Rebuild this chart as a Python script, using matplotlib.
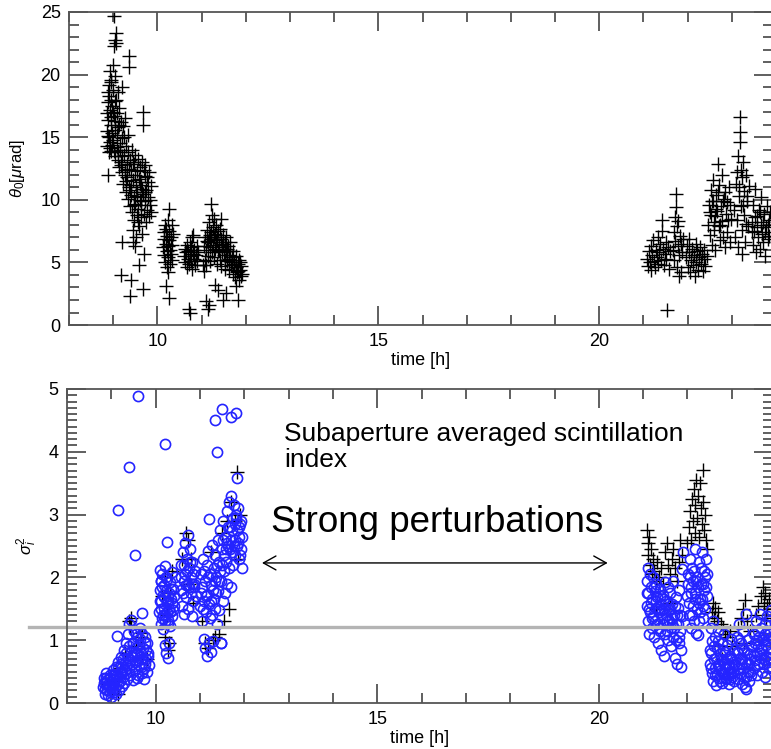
import matplotlib
matplotlib.use('Agg')
from matplotlib import pyplot as plt
from matplotlib.ticker import MultipleLocator

# Top panel: isoplanatic angle theta_0 [urad], one list pair per observing block
t_a = [8.86, 8.87, 8.88, 8.88, 8.89, 8.90, 8.90, 8.91, 8.92, 8.93, 8.93, 8.94, 8.95, 8.95,
       8.96, 8.97, 8.98, 8.99, 9.00, 9.00, 9.01, 9.02, 9.03, 9.03, 9.04, 9.05, 9.05, 9.06,
       9.02, 9.07, 9.08, 9.08, 9.10, 9.10, 9.12, 9.13, 9.14, 9.15, 9.17, 9.18, 9.19, 9.20,
       9.21, 9.22, 9.23, 9.25, 9.26, 9.27, 9.28, 9.30, 9.31, 9.32, 9.33, 9.34, 9.35, 9.35,
       9.36, 9.37, 9.38, 9.40, 9.40, 9.42, 9.43, 9.44, 9.45, 9.46, 9.47, 9.48, 9.49, 9.50,
       9.51, 9.52, 9.53, 9.54, 9.55, 9.56, 9.57, 9.58, 9.59, 9.60, 9.61, 9.62, 9.63, 9.64,
       9.65, 9.66, 9.67, 9.67, 9.68, 9.70, 9.71, 9.72, 9.73, 9.74, 9.75, 9.77, 9.78, 9.80,
       9.82, 9.83, 9.85, 9.86, 8.88, 9.20, 9.18, 9.40, 9.38, 9.58, 9.70, 9.67, 9.45, 9.50]
th_a = [14.3, 15.5, 17.8, 18.6, 16.4, 13.8, 19.2, 15.0, 17.2, 20.3, 14.6, 18.0, 16.0, 19.6,
        13.9, 17.5, 15.3, 18.8, 14.8, 20.8, 16.7, 22.3, 22.8, 13.5, 17.9, 19.9, 15.6, 23.3,
        24.7, 22.5, 14.2, 16.9, 18.6, 13.2, 15.8, 12.6, 17.3, 14.5, 13.0, 16.2, 19.0, 12.2,
        14.9, 11.3, 15.9, 13.6, 12.0, 16.5, 10.6, 14.3, 11.8, 12.9, 10.1, 15.2, 21.5, 20.6,
        11.0, 13.2, 9.5, 12.4, 10.4, 14.0, 9.0, 11.6, 7.6, 12.9, 10.2, 8.4, 13.6, 9.7,
        11.0, 7.0, 12.3, 8.8, 10.6, 13.3, 9.3, 11.7, 7.9, 10.0, 12.6, 8.6, 11.2, 9.6,
        13.0, 7.3, 17.0, 16.0, 10.5, 8.9, 11.9, 9.9, 12.8, 8.2, 10.8, 9.2, 11.4, 8.7,
        12.2, 10.0, 9.0, 11.1, 12.0, 6.6, 4.0, 3.6, 2.3, 4.8, 5.7, 2.9, 6.6, 6.3]

t_b = [10.13, 10.14, 10.15, 10.16, 10.17, 10.18, 10.19, 10.20, 10.21, 10.22, 10.22, 10.23,
       10.24, 10.25, 10.26, 10.27, 10.27, 10.28, 10.29, 10.30, 10.31, 10.32, 10.33, 10.34,
       10.35, 10.20, 10.23, 10.27]
th_b = [6.2, 7.4, 5.6, 6.9, 8.0, 5.0, 6.5, 7.7, 5.9, 4.6, 7.1, 6.3,
        8.4, 5.4, 6.8, 9.3, 7.5, 6.0, 4.9, 7.0, 5.7, 8.0, 6.4, 5.2,
        7.3, 3.1, 4.2, 2.2]

t_c = [10.60, 10.62, 10.63, 10.65, 10.66, 10.68, 10.69, 10.70, 10.72, 10.73, 10.74, 10.76,
       10.77, 10.78, 10.80, 10.81, 10.83, 10.84, 10.86, 10.87, 10.89, 10.90, 10.92,
       10.72, 10.74, 10.78]
th_c = [5.5, 6.1, 5.0, 5.8, 4.6, 6.4, 5.3, 5.9, 4.9, 6.6, 5.5, 5.1,
        6.2, 4.5, 5.7, 7.2, 5.3, 6.0, 4.8, 5.6, 6.3, 5.1, 5.8,
        1.3, 1.0, 7.0]

t_d = [11.05, 11.07, 11.08, 11.10, 11.11, 11.13, 11.14, 11.15, 11.17, 11.18, 11.19, 11.20,
       11.22, 11.22, 11.23, 11.24, 11.25, 11.26, 11.28, 11.29, 11.30, 11.31, 11.33, 11.34,
       11.35, 11.37, 11.38, 11.40, 11.41, 11.43, 11.44, 11.45, 11.47, 11.48, 11.50, 11.52,
       11.53, 11.55, 11.56, 11.58, 11.60, 11.62, 11.63, 11.65, 11.67, 11.68, 11.70, 11.72,
       11.73, 11.75, 11.77, 11.78, 11.80, 11.82, 11.84, 11.85, 11.87, 11.89, 11.90, 11.92,
       11.03, 11.05, 11.10, 11.17, 11.15, 11.31, 11.38, 11.48, 11.78, 11.82, 11.55]
th_d = [6.3, 5.2, 7.0, 6.0, 4.8, 7.6, 6.6, 5.5, 8.2, 6.2, 7.2, 5.1,
        9.7, 6.9, 8.8, 5.8, 7.8, 6.4, 8.5, 5.4, 7.3, 6.1, 8.0, 4.9,
        6.8, 5.9, 7.5, 6.4, 5.2, 8.5, 6.9, 4.7, 6.2, 7.2, 5.6, 6.6,
        4.5, 5.9, 7.0, 5.1, 6.3, 4.4, 5.6, 6.6, 4.8, 5.4, 4.1, 5.9,
        5.0, 3.8, 4.6, 5.5, 4.2, 4.9, 3.6, 5.2, 4.4, 3.9, 4.7, 4.1,
        4.8, 4.3, 1.9, 1.6, 1.3, 3.2, 2.8, 2.0, 3.1, 2.0, 2.6]

t_e = [21.08, 21.10, 21.12, 21.14, 21.16, 21.18, 21.20, 21.22, 21.24, 21.26, 21.28, 21.30,
       21.32, 21.34, 21.36, 21.38, 21.40, 21.42, 21.43, 21.44, 21.46, 21.48, 21.50, 21.52,
       21.55, 21.57, 21.60, 21.54]
th_e = [5.3, 4.7, 5.9, 5.0, 6.3, 4.4, 5.6, 6.8, 5.1, 4.6, 6.0, 5.4,
        7.0, 4.9, 5.8, 6.5, 5.2, 8.4, 7.5, 6.1, 4.8, 5.7, 6.6, 5.3,
        6.2, 4.5, 5.9, 1.2]

t_f = [21.66, 21.68, 21.70, 21.71, 21.72, 21.74, 21.74, 21.75, 21.76, 21.78, 21.79, 21.80,
       21.81, 21.82, 21.84, 21.85, 21.87, 21.89]
th_f = [6.0, 7.4, 5.2, 8.6, 6.7, 10.5, 9.4, 4.6, 7.9, 6.3, 8.3, 3.9,
        5.6, 7.1, 6.5, 4.2, 5.8, 6.9]

t_g = [21.96, 21.98, 22.00, 22.02, 22.04, 22.06, 22.08, 22.10, 22.12, 22.14, 22.16, 22.18,
       22.20, 22.22, 22.24, 22.26, 22.28, 22.30, 22.32, 22.34, 22.36, 22.38, 22.40, 22.43]
th_g = [5.4, 6.3, 4.6, 5.8, 6.9, 4.2, 5.2, 6.1, 4.8, 5.6, 3.9, 6.5,
        5.0, 5.9, 4.4, 5.4, 6.2, 4.9, 5.7, 4.3, 5.3, 6.0, 4.7, 5.5]

t_h = [22.46, 22.48, 22.50, 22.52, 22.53, 22.55, 22.57, 22.58, 22.60, 22.62, 22.63, 22.65,
       22.67, 22.68, 22.70, 22.72, 22.73, 22.75, 22.77, 22.78, 22.80, 22.82, 22.84, 22.86,
       22.88, 22.90, 22.93, 22.95, 22.98,
       23.05, 23.08, 23.10, 23.12, 23.14, 23.15, 23.16, 23.18, 23.18, 23.19, 23.20, 23.21,
       23.22, 23.23, 23.24, 23.25, 23.27, 23.28, 23.30, 23.32, 23.34, 23.36, 23.38]
th_h = [8.0, 9.6, 7.2, 10.8, 8.8, 6.4, 9.9, 11.6, 7.6, 8.7, 6.0, 10.4,
        9.1, 12.9, 7.9, 11.2, 6.8, 9.5, 8.3, 12.0, 7.0, 10.1, 6.2, 8.9,
        9.8, 7.4, 11.0, 6.6, 8.5,
        9.2, 7.0, 11.3, 8.4, 13.5, 6.2, 10.3, 16.6, 15.4, 14.6, 9.5, 12.4,
        7.6, 11.8, 5.7, 13.0, 8.8, 10.7, 6.6, 12.0, 9.9, 7.9, 11.1]

t_i = [23.45, 23.47, 23.49, 23.51, 23.53, 23.55, 23.57, 23.59, 23.61, 23.63, 23.65, 23.67,
       23.69, 23.71, 23.73, 23.75, 23.77, 23.79, 23.81, 23.83, 23.85]
th_i = [8.2, 6.4, 9.6, 7.5, 10.9, 5.8, 8.7, 7.0, 9.2, 6.1, 8.0, 10.2,
        7.3, 6.6, 8.9, 5.5, 7.8, 9.5, 6.9, 8.4, 7.1]

# extra points in the dense cores of the blocks
t_core = [8.87, 8.89, 8.91, 8.92, 8.94, 8.96, 8.98, 9.00, 9.01, 9.04, 9.06, 9.09, 9.11, 9.13,
          9.16, 9.18, 9.21, 9.24, 9.27, 9.29, 9.33, 9.36, 9.39, 9.41, 9.44, 9.47, 9.50, 9.53,
          9.56, 9.60, 9.63, 9.66, 9.69, 9.72, 9.76, 9.79, 9.84,
          11.12, 11.16, 11.21, 11.27, 11.32, 11.36, 11.39, 11.42, 11.46, 11.49, 11.54, 11.57,
          11.61, 11.64, 11.69, 11.74, 11.79, 11.83, 11.88,
          22.50, 22.54, 22.59, 22.64, 22.69, 22.74, 22.79, 22.85, 22.91, 22.96, 23.11, 23.17,
          23.26, 23.31, 23.35,
          23.46, 23.52, 23.58, 23.64, 23.70, 23.76, 23.82, 23.87]
th_core = [16.9, 15.1, 18.3, 14.1, 16.6, 19.4, 14.4, 17.0, 13.9, 16.3, 18.0, 15.2, 13.8, 16.0,
           14.0, 12.8, 13.5, 15.0, 12.4, 11.5, 13.8, 12.5, 10.8, 11.2, 13.0, 9.6, 12.0, 10.3,
           8.2, 11.4, 9.9, 10.9, 12.4, 10.6, 11.8, 10.2, 9.6,
           6.7, 7.0, 7.4, 7.0, 6.6, 7.0, 6.0, 7.7, 5.8, 6.5, 5.2, 6.1,
           5.3, 5.9, 5.0, 4.9, 4.6, 4.3, 5.0,
           9.0, 9.9, 8.2, 9.3, 10.6, 8.0, 9.9, 10.6, 8.4, 9.6, 12.2, 11.0,
           9.6, 8.1, 10.3,
           7.4, 8.6, 7.8, 9.0, 8.2, 7.4, 8.0, 9.0]

# Bottom panel: scintillation index, blue circles (one estimate)
c_t_am = [8.82, 8.84, 8.85, 8.87, 8.88, 8.90, 8.91, 8.93, 8.94, 8.96, 8.97, 8.99, 9.00, 9.02,
          9.03, 9.05, 9.06, 9.08, 9.10, 9.11, 9.13, 9.14, 9.16, 9.17, 9.19, 9.20, 9.22, 9.23,
          9.25, 9.26, 9.28, 9.29, 9.31, 9.32, 9.34, 9.35, 9.37, 9.38, 9.39, 9.41, 9.42, 9.44,
          9.45, 9.46, 9.48, 9.49, 9.51, 9.52, 9.54, 9.55, 9.57, 9.58, 9.60, 9.61, 9.63, 9.64,
          9.66, 9.67, 9.69, 9.70, 9.72, 9.73, 9.75, 9.76, 9.78, 9.80, 9.82, 9.84,
          9.14, 9.39, 9.54, 9.60, 9.70, 9.12,
          8.83, 8.86, 8.89, 8.92, 8.95, 8.98, 9.01, 9.04, 9.07, 9.09, 9.12, 9.15, 9.18, 9.21,
          9.24, 9.27, 9.30, 9.33, 9.36, 9.40, 9.43, 9.47, 9.50, 9.53, 9.56, 9.59, 9.62, 9.65,
          9.68, 9.71, 9.74, 9.77, 9.79, 9.81, 9.83,
          10.08, 10.09, 10.10, 10.11, 10.12, 10.13, 10.14, 10.15, 10.16, 10.17, 10.18, 10.19,
          10.20, 10.21, 10.22, 10.23, 10.24, 10.25, 10.26, 10.27, 10.28, 10.29, 10.30, 10.31,
          10.32, 10.33, 10.34, 10.36, 10.38, 10.40, 10.42, 10.44, 10.26, 10.22,
          10.09, 10.11, 10.13, 10.15, 10.17, 10.19, 10.21, 10.23, 10.25, 10.27, 10.29, 10.31,
          10.33, 10.35, 10.37, 10.39, 10.41,
          10.57, 10.58, 10.60, 10.61, 10.63, 10.64, 10.66, 10.67, 10.69, 10.70, 10.72, 10.73,
          10.74, 10.76, 10.77, 10.79, 10.80, 10.82, 10.83, 10.85, 10.86, 10.88, 10.90,
          10.58, 10.62, 10.65, 10.68, 10.71, 10.75, 10.78, 10.81, 10.84, 10.87]
c_s_am = [0.25, 0.40, 0.15, 0.32, 0.48, 0.20, 0.36, 0.12, 0.28, 0.45, 0.18, 0.33, 0.10, 0.26,
          0.52, 0.17, 0.38, 0.24, 0.58, 0.14, 0.44, 0.30, 0.66, 0.21, 0.50, 0.35, 0.74, 0.27,
          0.58, 0.42, 0.85, 0.32, 0.64, 0.48, 0.95, 0.38, 0.72, 1.10, 0.55, 1.25, 0.44, 0.82,
          1.32, 0.62, 0.96, 0.36, 0.76, 1.15, 0.52, 0.88, 0.40, 1.05, 0.68, 0.45, 0.92, 1.20,
          0.58, 0.80, 0.48, 1.10, 0.70, 0.38, 0.95, 0.62, 0.85, 0.50, 0.75, 0.60,
          3.08, 3.75, 2.35, 4.88, 1.44, 1.07,
          0.32, 0.22, 0.40, 0.30, 0.25, 0.40, 0.20, 0.44, 0.30, 0.46, 0.35, 0.55, 0.42, 0.62,
          0.48, 0.70, 0.52, 0.80, 0.60, 0.90, 0.68, 0.75, 0.95, 0.66, 1.10, 0.80, 0.60, 1.02,
          0.70, 0.88, 0.55, 1.05, 0.70, 0.95, 0.80,
          1.45, 1.80, 2.12, 1.25, 1.62, 1.95, 1.35, 2.05, 1.72, 1.18, 1.88, 1.52,
          0.92, 2.18, 1.40, 1.78, 0.80, 1.60, 1.98, 1.28, 0.72, 1.70, 0.95, 1.50,
          1.92, 1.22, 1.65, 2.08, 1.38, 1.82, 1.55, 2.00, 2.57, 4.12,
          1.62, 1.95, 1.50, 1.85, 1.40, 1.68, 1.30, 2.00, 1.45, 1.62, 1.32, 1.75,
          1.45, 1.82, 1.60, 1.48, 1.70,
          1.80, 2.20, 1.55, 2.40, 1.95, 1.42, 2.55, 2.05, 1.68, 2.30, 1.88, 2.68,
          1.50, 2.15, 2.45, 1.75, 2.00, 1.38, 2.25, 1.62, 1.90, 2.10, 1.70,
          2.00, 1.75, 2.20, 1.88, 2.10, 1.85, 2.25, 1.90, 2.05, 1.85]

c_t_noon = [11.01, 11.02, 11.04, 11.05, 11.07, 11.08, 11.10, 11.11, 11.12, 11.13, 11.15, 11.16,
            11.17, 11.19, 11.20, 11.21, 11.23, 11.24, 11.25, 11.27, 11.28, 11.30, 11.31, 11.32,
            11.34, 11.35, 11.37, 11.38, 11.40, 11.41, 11.43, 11.44, 11.46, 11.47, 11.48, 11.50,
            11.51, 11.53, 11.54, 11.56, 11.57, 11.59, 11.60, 11.62, 11.63, 11.65, 11.66, 11.68,
            11.69, 11.71, 11.72, 11.74, 11.75, 11.77, 11.78, 11.80, 11.81, 11.83, 11.84, 11.86,
            11.88, 11.90, 11.92, 11.94, 11.95,
            11.34, 11.49, 11.71, 11.81, 11.38, 11.20, 11.83, 11.47,
            11.03, 11.06, 11.09, 11.14, 11.18, 11.22, 11.26, 11.29, 11.33, 11.36, 11.39, 11.42,
            11.45, 11.49, 11.52, 11.55, 11.58, 11.61, 11.64, 11.67, 11.70, 11.73, 11.76, 11.79,
            11.82, 11.85, 11.87, 11.89, 11.91, 11.93]
c_s_noon = [1.55, 2.05, 1.30, 1.85, 2.30, 1.62, 1.02, 1.95, 0.88, 1.45, 2.20, 0.75,
            1.72, 2.42, 0.95, 1.58, 2.05, 0.82, 1.88, 2.52, 1.40, 0.98, 2.15, 1.65,
            2.35, 1.50, 2.00, 1.25, 2.60, 1.78, 2.25, 1.48, 2.75, 0.95, 1.95, 2.45,
            1.62, 2.90, 2.10, 1.75, 2.65, 2.25, 3.05, 1.90, 2.50, 3.20, 2.15, 2.80,
            1.85, 3.30, 2.40, 2.95, 2.20, 3.15, 2.60, 2.35, 3.00, 2.50, 2.75, 3.10,
            2.30, 2.85, 2.45, 2.15, 2.65,
            4.50, 4.68, 4.56, 4.61, 3.99, 2.93, 3.58, 0.95,
            1.75, 1.50, 2.10, 1.70, 2.00, 1.35, 1.62, 1.80, 1.95, 1.75, 2.20, 1.95,
            2.10, 2.20, 2.60, 2.35, 2.45, 2.55, 2.80, 2.45, 2.60, 2.75, 2.50, 2.85,
            2.95, 2.55, 2.80, 2.65, 2.35, 2.90]

c_t_night = [21.08, 21.09, 21.10, 21.11, 21.12, 21.14, 21.15, 21.16, 21.18, 21.19, 21.20, 21.22,
             21.23, 21.25, 21.26, 21.28, 21.29, 21.31, 21.32, 21.34, 21.35, 21.37, 21.38, 21.40,
             21.41, 21.43, 21.44, 21.46, 21.47, 21.49, 21.50, 21.52, 21.53, 21.55, 21.57, 21.58,
             21.60, 21.62, 21.63, 21.65, 21.67, 21.68, 21.70, 21.72, 21.73, 21.75, 21.77, 21.78,
             21.80, 21.82, 21.84, 21.86, 21.88, 21.90, 21.87,
             21.09, 21.13, 21.17, 21.21, 21.24, 21.27, 21.30, 21.33, 21.36, 21.39, 21.42, 21.45,
             21.48, 21.51, 21.54, 21.56, 21.59, 21.61, 21.64, 21.66, 21.69, 21.71, 21.74, 21.76,
             21.79, 21.81, 21.83, 21.85,
             22.00, 22.02, 22.03, 22.05, 22.07, 22.08, 22.10, 22.12, 22.13, 22.15, 22.17, 22.18,
             22.20, 22.22, 22.23, 22.25, 22.27, 22.28, 22.30, 22.32, 22.33, 22.35, 22.37, 22.38,
             22.40, 22.42, 22.44,
             22.01, 22.04, 22.06, 22.09, 22.11, 22.14, 22.16, 22.19, 22.21, 22.24, 22.26, 22.29,
             22.31, 22.34, 22.36, 22.39, 22.41, 22.43]
c_s_night = [1.55, 1.95, 2.15, 1.30, 1.75, 1.10, 2.05, 1.45, 1.85, 1.20, 1.65, 2.00,
             1.38, 1.05, 1.78, 1.52, 1.90, 1.25, 1.68, 0.95, 1.45, 1.82, 1.15, 1.58,
             0.85, 1.35, 1.72, 0.75, 1.50, 1.92, 1.10, 1.62, 1.30, 1.85, 1.00, 1.48,
             1.75, 1.20, 0.90, 1.58, 1.95, 1.05, 1.40, 0.72, 1.68, 1.25, 0.62, 1.52,
             0.95, 1.80, 1.15, 0.58, 2.14, 2.41, 1.38,
             1.75, 1.50, 1.60, 1.35, 1.85, 1.30, 1.62, 1.50, 1.20, 1.70, 1.48, 1.25,
             1.65, 1.40, 1.15, 1.58, 1.30, 1.50, 1.25, 1.35, 1.20, 1.55, 1.00, 1.40,
             1.25, 1.05, 1.40, 0.85,
             1.70, 2.05, 1.40, 2.30, 1.85, 1.20, 2.15, 1.55, 1.95, 1.30, 2.45, 1.75,
             1.12, 2.00, 1.08, 1.60, 2.25, 1.45, 1.90, 2.40, 1.65, 1.35, 2.10, 1.80,
             1.50, 2.30, 1.70,
             1.90, 1.60, 2.00, 1.75, 1.40, 2.10, 1.65, 1.95, 1.50, 1.85, 1.30, 1.65,
             2.15, 1.90, 1.55, 2.00, 1.85, 2.05]

c_t_late = [22.50, 22.52, 22.53, 22.55, 22.57, 22.58, 22.60, 22.62, 22.63, 22.65, 22.67, 22.68,
            22.70, 22.72, 22.73, 22.75, 22.77, 22.78, 22.80, 22.82, 22.83, 22.85, 22.87, 22.88,
            22.90, 22.92, 22.93, 22.95, 22.97, 22.98, 23.00, 23.02, 23.04, 23.06,
            22.51, 22.54, 22.56, 22.59, 22.61, 22.64, 22.66, 22.69, 22.71, 22.74, 22.76, 22.79,
            22.81, 22.84, 22.86, 22.89, 22.91, 22.94, 22.96, 22.99, 23.01, 23.03, 23.05,
            23.10, 23.12, 23.13, 23.15, 23.17, 23.18, 23.20, 23.22, 23.23, 23.25, 23.27, 23.28,
            23.30, 23.32, 23.33, 23.35, 23.37, 23.38, 23.40, 23.42, 23.44,
            23.11, 23.14, 23.16, 23.19, 23.21, 23.24, 23.26, 23.29, 23.31, 23.34, 23.36, 23.39,
            23.41, 23.43,
            23.50, 23.52, 23.54, 23.56, 23.58, 23.60, 23.62, 23.64, 23.66, 23.68, 23.70, 23.72,
            23.74, 23.76, 23.78, 23.80, 23.82, 23.84, 23.86, 23.88, 23.90,
            23.49, 23.51, 23.53, 23.55, 23.57, 23.59, 23.61, 23.63, 23.65, 23.67, 23.69, 23.71,
            23.73, 23.75, 23.77, 23.79, 23.81, 23.83, 23.85, 23.87, 23.89]
c_s_late = [0.85, 1.20, 0.55, 0.98, 0.35, 1.30, 0.70, 0.45, 1.05, 0.28, 0.88, 0.60,
            1.15, 0.40, 0.78, 0.52, 0.95, 0.32, 0.68, 1.10, 0.46, 0.82, 0.58, 0.38,
            0.92, 0.62, 0.30, 0.75, 0.50, 1.02, 0.42, 0.66, 0.35, 0.85,
            0.62, 0.80, 0.48, 0.90, 0.55, 0.72, 0.45, 0.98, 0.60, 0.35, 0.70, 0.50,
            0.85, 0.62, 0.40, 0.70, 0.48, 0.58, 0.38, 0.72, 0.55, 0.48, 0.62,
            0.60, 1.05, 0.38, 0.80, 1.25, 0.48, 0.95, 0.30, 0.70, 1.15, 0.42, 0.85,
            0.25, 1.42, 0.22, 0.62, 1.00, 0.35, 0.78, 0.50, 0.90,
            0.82, 0.55, 1.00, 0.70, 0.62, 0.88, 0.55, 0.65, 0.42, 0.80, 0.50, 0.62,
            0.70, 0.45,
            0.55, 0.95, 1.30, 0.45, 0.78, 1.15, 0.62, 1.42, 0.88, 0.50, 1.05, 0.70,
            1.25, 0.42, 0.92, 1.38, 0.65, 1.10, 0.82, 1.48, 0.58,
            0.75, 1.10, 0.68, 1.00, 0.60, 0.90, 1.05, 0.80, 1.20, 0.72, 0.85, 1.00,
            0.62, 1.10, 0.75, 1.00, 0.88, 0.55, 1.30, 0.70, 1.05]

# Bottom panel: black crosses (second estimate)
p_t = [8.90, 9.05, 9.15, 9.20, 9.30, 9.40, 9.42, 9.45, 9.55, 9.68, 9.70, 9.80,
       10.15, 10.20, 10.20, 10.25, 10.28, 10.30, 10.32, 10.38,
       10.60, 10.68, 10.72, 10.75, 10.80, 10.85,
       11.05, 11.12, 11.18, 11.25, 11.30, 11.35, 11.42, 11.50, 11.55, 11.60, 11.65, 11.70,
       11.78, 11.83, 11.85, 11.90,
       21.08, 21.10, 21.12, 21.14, 21.16, 21.18, 21.20, 21.22, 21.25, 21.28, 21.32, 21.36,
       21.40, 21.45, 21.50, 21.53, 21.56, 21.60, 21.64, 21.68, 21.72, 21.76, 21.80, 21.84,
       21.88, 21.60, 21.30,
       22.00, 22.03, 22.06, 22.08, 22.10, 22.12, 22.14, 22.16, 22.18, 22.20, 22.22, 22.24,
       22.26, 22.28, 22.30, 22.32, 22.34, 22.36, 22.38, 22.40, 22.42, 22.44,
       22.55, 22.58, 22.60, 22.63, 22.66, 22.70, 22.75, 22.80, 22.85, 22.90, 22.95, 23.00,
       22.68, 22.78,
       23.15, 23.20, 23.25, 23.30, 23.35, 23.40, 23.28,
       23.55, 23.60, 23.65, 23.70, 23.72, 23.75, 23.80, 23.85, 23.90, 23.78]
p_s = [0.30, 0.35, 0.15, 0.55, 0.80, 1.30, 1.22, 1.35, 0.90, 1.05, 1.12, 0.70,
       1.70, 2.00, 1.05, 1.40, 0.85, 0.95, 1.75, 2.10,
       2.30, 2.70, 2.60, 1.90, 2.30, 1.60,
       1.30, 0.95, 0.88, 2.40, 1.00, 1.05, 1.10, 2.70, 1.30, 2.90, 1.50, 3.20,
       2.90, 3.68, 2.30, 3.00,
       2.75, 2.55, 2.35, 2.65, 2.20, 2.45, 2.05, 2.30, 2.10, 1.95, 2.25, 2.00,
       2.15, 1.90, 2.40, 2.55, 2.20, 2.05, 2.30, 2.45, 2.15, 1.95, 2.25, 2.60,
       2.35, 1.60, 1.50,
       2.55, 2.80, 3.05, 2.60, 3.25, 2.90, 3.40, 2.70, 3.15, 3.55, 2.95, 3.30,
       2.65, 3.50, 3.10, 2.85, 3.71, 3.20, 2.75, 3.00, 2.60, 2.45,
       1.45, 1.60, 1.35, 1.52, 1.30, 1.45, 1.25, 1.20, 1.10, 1.05, 1.15, 0.90,
       0.90, 0.70,
       1.20, 1.35, 1.50, 1.64, 1.30, 1.15, 0.95,
       1.40, 1.55, 1.70, 1.85, 1.60, 1.75, 1.55, 1.65, 1.50, 1.35]

threshold = 1.21

plt.rcParams['font.family'] = ['Liberation Sans', 'DejaVu Sans']
plt.rcParams['mathtext.fontset'] = 'custom'
plt.rcParams['mathtext.rm'] = 'Liberation Sans'
plt.rcParams['mathtext.it'] = 'Liberation Sans:italic'

fig = plt.figure(figsize=(7.71, 7.49), dpi=100)
ax1 = fig.add_axes([0.0895, 0.566, 0.913, 0.418])
ax2 = fig.add_axes([0.0869, 0.0614, 0.9157, 0.4193])

plus = dict(marker='+', linestyle='none', color='black', markersize=9.5, markeredgewidth=1.0)

# Top panel
for t, th in [(t_a, th_a), (t_b, th_b), (t_c, th_c), (t_d, th_d), (t_e, th_e),
              (t_f, th_f), (t_g, th_g), (t_h, th_h), (t_i, th_i), (t_core, th_core)]:
    ax1.plot(t, th, **plus)
ax1.set_ylim(0, 25)
ax1.set_ylabel(r'$\theta_0$[$\mu$rad]', fontsize=12, labelpad=10)
ax1.yaxis.set_major_locator(MultipleLocator(5))
ax1.yaxis.set_minor_locator(MultipleLocator(1))

# Bottom panel: crosses first, circles on top
ax2.plot(p_t, p_s, **plus)
for t, s in [(c_t_am, c_s_am), (c_t_noon, c_s_noon), (c_t_night, c_s_night), (c_t_late, c_s_late)]:
    ax2.plot(t, s, marker='o', linestyle='none', markerfacecolor='none',
             markeredgecolor='#2424ff', markersize=7.3, markeredgewidth=1.2)
ax2.plot([-0.054, 1.0], [threshold, threshold], transform=ax2.get_yaxis_transform(),
         clip_on=False, color='#b4b4b4', linewidth=2.4)
ax2.set_ylim(0, 5)
ax2.set_ylabel(r'$\sigma_i^2$', fontsize=12, labelpad=7)
ax2.yaxis.set_major_locator(MultipleLocator(1))
ax2.yaxis.set_minor_locator(MultipleLocator(0.1))

ax2.text(12.9, 4.48, 'Subaperture averaged scintillation\nindex', fontsize=19,
         va='top', ha='left', linespacing=1.15)
ax2.text(12.6, 2.72, 'Strong perturbations', fontsize=26.5, va='baseline', ha='left')
ax2.annotate('', xy=(12.4, 2.23), xytext=(20.2, 2.23),
             arrowprops=dict(arrowstyle='<->,head_length=0.45,head_width=0.25',
                             lw=1.0, color='black', shrinkA=0, shrinkB=0,
                             mutation_scale=20))

for ax in (ax1, ax2):
    ax.set_xlim(8, 23.93)
    ax.xaxis.set_major_locator(MultipleLocator(5))
    ax.xaxis.set_minor_locator(MultipleLocator(1))
    ax.set_xlabel('time [h]', fontsize=13, labelpad=1)
    ax.tick_params(which='both', direction='in', top=True, right=True,
                   color='#444444', labelsize=13)
    ax.tick_params(which='major', length=14, width=1.2, pad=6)
    ax.tick_params(which='minor', length=7, width=1.2)
    for sp in ax.spines.values():
        sp.set_color('#555555')
        sp.set_linewidth(1.3)

fig.savefig('out.png', dpi=100)
